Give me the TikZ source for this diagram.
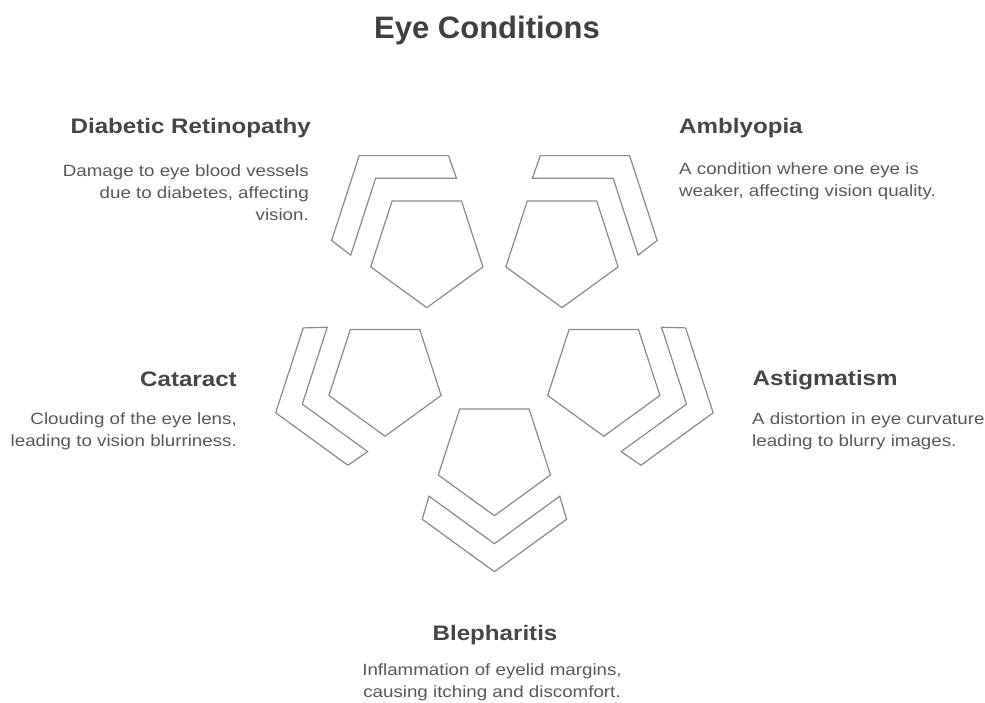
\documentclass[tikz,border=0pt]{standalone}
\usepackage{fontspec}
\setmainfont{Liberation Sans}
\newfontfamily\widesans[FakeStretch=1.15]{Liberation Sans}
\usepackage{tikz}
\usetikzlibrary{calc,shapes.geometric}
\definecolor{eyline}{RGB}{138,138,138}
\definecolor{eytitle}{RGB}{64,64,64}
\definecolor{eyhead}{RGB}{70,70,70}
\definecolor{eytext}{RGB}{88,88,88}
\tikzset{
  pent/.style={
    draw=eyline, line width=1.2pt, regular polygon, regular polygon sides=5,
    shape border rotate=180, minimum size=118pt, inner sep=0pt, outer sep=0pt
  },
  band/.style={draw=eyline, line width=1.2pt, line join=miter},
  ttl/.style={font=\fontsize{31}{36}\selectfont\bfseries, text=eytitle, inner sep=0pt},
  head/.style={font=\widesans\fontsize{21}{25}\selectfont\bfseries, text=eyhead, inner sep=0pt},
  desc/.style={font=\widesans\fontsize{16.3}{22}\selectfont, text=eytext, inner sep=0pt}
}

\begin{document}
\begin{tikzpicture}[x=1pt, y=1pt]
  \useasboundingbox (0,0) rectangle (985,702);
  \coordinate (hub) at (494.4,360.3);

  % pentagons, each with a band round its outer corner
  \foreach \nm/\ang in {retina/126, amblyo/54, cataract/198, astig/-18, bleph/-90} {
    \node[pent] (\nm) at ($(hub)+(\ang:115)$) {};
    \draw[band]
      ($(\nm.center)+(\ang:87)!0.79!(\ang+72:87)$) --
      ($(\nm.center)+(\ang:87)$) --
      ($(\nm.center)+(\ang:87)!0.79!(\ang-72:87)$) --
      ($(\nm.center)+(\ang:115)!0.66!(\ang-72:115)$) --
      ($(\nm.center)+(\ang:115)$) --
      ($(\nm.center)+(\ang:115)!0.66!(\ang+72:115)$) -- cycle;
  }

  \node[ttl, anchor=base] (title) at (487,663.7) {Eye Conditions};

  % base of a text block = base of its last line
  \node[head, anchor=base east] (hretina) at (311,568) {Diabetic Retinopathy};
  \node[desc, anchor=base east, align=right] (dretina) at (309,481.3)
    {Damage to eye blood vessels\\due to diabetes, affecting\\vision.};

  \node[head, anchor=base west] (hamblyo) at (679,568.5) {Amblyopia};
  \node[desc, anchor=base west, align=left] (damblyo) at (679,505.5)
    {A condition where one eye is\\weaker, affecting vision quality.};

  \node[head, anchor=base east] (hcataract) at (237,315.5) {Cataract};
  \node[desc, anchor=base east, align=right] (dcataract) at (237,256)
    {Clouding of the eye lens,\\leading to vision blurriness.};

  \node[head, anchor=base west] (hastig) at (752.5,316.3) {Astigmatism};
  \node[desc, anchor=base west, align=left] (dastig) at (752,256)
    {A distortion in eye curvature\\leading to blurry images.};

  \node[head, anchor=base] (hbleph) at (495,62) {Blepharitis};
  \node[desc, anchor=base, align=center] (dbleph) at (492,5)
    {Inflammation of eyelid margins,\\causing itching and discomfort.};
\end{tikzpicture}
\end{document}
